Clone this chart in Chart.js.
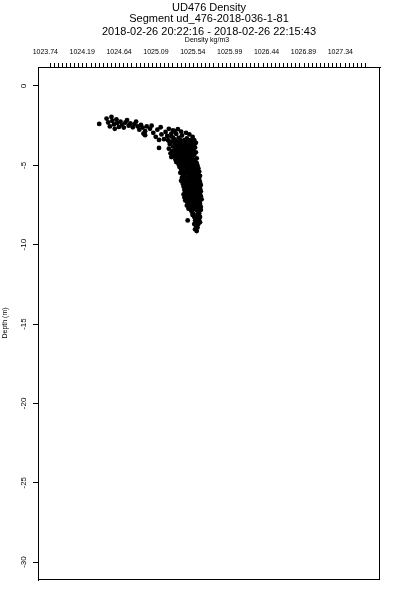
<!DOCTYPE html>
<html><head><meta charset="utf-8">
<script src="https://cdn.jsdelivr.net/npm/chart.js@4/dist/chart.umd.min.js"></script>
<style>html,body{margin:0;padding:0;background:#fff}canvas{display:block}</style>
</head><body>
<canvas id="c" width="400" height="600"></canvas>
<script>
const titleLines = ['UD476 Density', 'Segment ud_476-2018-036-1-81', '2018-02-26 20:22:16 - 2018-02-26 22:15:43'];
const xAxisTitle = 'Density kg/m3';
const yAxisTitle = 'Depth (m)';
const xTickLabels = [1023.74, 1024.19, 1024.64, 1025.09, 1025.54, 1025.99, 1026.44, 1026.89, 1027.34];
const xMinorStep = 0.05;
const xMinorCount = 78;
const yTickLabels = [0, -5, -10, -15, -20, -25, -30];

const density = [
  1024.34,1024.43,1024.45,1024.47,1024.49,1024.50,1024.52,1024.53,1024.55,1024.56,
  1024.58,1024.60,1024.62,1024.64,1024.66,1024.68,1024.70,1024.72,1024.75,1024.77,
  1024.79,1024.81,1024.83,1024.85,1024.87,1024.88,1024.90,1024.92,1024.90,1024.96,
  1024.98,1025.00,1025.03,1025.05,1025.07,1025.09,1025.10,1025.13,1025.15,1025.17,
  1025.19,1025.20,1025.22,1025.07,1025.24,1025.26,1025.27,
  1025.30,1025.24,1025.34,1025.40,1025.28,1025.44,1025.35,1025.22,1025.48,1025.31,1025.41,1025.26,
  1025.18,1025.33,1025.38,1025.45,1025.50,
  1025.23,1025.29,1025.36,1025.42,
  1025.31,1025.39,1025.47,1025.52,
  1025.20,1025.27,1025.34,1025.44,
  1025.30,1025.37,1025.41,1025.49,
  1025.24,1025.33,1025.39,1025.46,
  1025.28,1025.36,1025.43,1025.51,
  1025.19,1025.31,1025.38,1025.47,
  1025.26,1025.34,1025.41,1025.49,
  1025.23,1025.29,1025.37,1025.44,
  1025.32,1025.39,1025.46,1025.52,
  1025.21,1025.27,1025.35,1025.42,
  1025.30,1025.38,1025.45,1025.50,
  1025.25,1025.33,1025.40,1025.48,
  1025.22,1025.29,1025.36,1025.43,
  1025.31,1025.39,1025.47,1025.53,
  1025.27,1025.34,1025.42,1025.49,
  1025.30,1025.37,1025.44,1025.51,
  1025.28,1025.35,1025.41,1025.48,
  1025.33,1025.40,1025.46,1025.53,
  1025.31,1025.38,1025.45,1025.50,
  1025.34,1025.42,1025.48,1025.54,
  1025.32,1025.39,1025.45,1025.51,
  1025.36,1025.43,1025.50,1025.55,
  1025.34,1025.41,1025.47,1025.53,
  1025.37,1025.44,1025.50,1025.56,
  1025.33,1025.40,1025.46,1025.52,
  1025.36,1025.43,1025.49,1025.55,
  1025.38,1025.45,1025.51,1025.57,
  1025.35,1025.42,1025.48,1025.54,
  1025.37,1025.44,1025.50,1025.56,
  1025.34,1025.41,1025.47,1025.53,
  1025.38,1025.45,1025.52,1025.57,
  1025.36,1025.43,1025.49,1025.55,
  1025.39,1025.46,1025.53,1025.58,
  1025.37,1025.44,1025.50,1025.56,
  1025.40,1025.47,1025.52,1025.57,
  1025.38,1025.45,1025.51,1025.56,
  1025.41,1025.48,1025.54,1025.58,
  1025.39,1025.46,1025.52,1025.57,
  1025.37,1025.43,1025.50,1025.55,
  1025.40,1025.47,1025.53,1025.58,
  1025.38,1025.45,1025.51,1025.56,
  1025.41,1025.48,1025.54,1025.59,
  1025.39,1025.46,1025.52,1025.57,
  1025.42,1025.49,1025.55,
  1025.44,1025.51,1025.57,
  1025.41,1025.48,1025.54,
  1025.45,1025.52,1025.58,
  1025.43,1025.50,1025.56,
  1025.46,1025.53,1025.58,
  1025.47,1025.55,
  1025.49,1025.56,
  1025.48,1025.54,
  1025.50,1025.57,
  1025.52,1025.56,
  1025.42,1025.51,1025.55,
  1025.53,1025.57,
  1025.50,1025.55,
  1025.52,
  1025.54,
  1025.51,
  1025.53
];
const depth = [
  -2.39,-2.05,-2.30,-2.55,-1.95,-2.20,-2.42,-2.70,-2.10,-2.33,
  -2.58,-2.25,-2.45,-2.62,-2.30,-2.15,-2.50,-2.35,-2.60,-2.40,
  -2.25,-2.55,-2.75,-2.45,-2.62,-3.00,-2.85,-2.55,-3.10,-2.70,
  -2.50,-2.95,-3.20,-2.75,-3.40,-2.60,-3.05,-3.35,-2.90,-3.15,
  -2.70,-3.50,-3.00,-3.90,-3.25,-2.85,-3.60,
  -2.72,-2.80,-2.88,-2.95,-3.02,-3.05,-3.12,-3.18,-3.20,-3.27,-3.30,-3.36,
  -3.42,-3.42,-3.42,-3.42,-3.42,
  -3.51,-3.51,-3.51,-3.51,
  -3.58,-3.58,-3.58,-3.58,
  -3.66,-3.66,-3.66,-3.66,
  -3.73,-3.73,-3.73,-3.73,
  -3.81,-3.81,-3.81,-3.81,
  -3.87,-3.87,-3.87,-3.87,
  -3.95,-3.95,-3.95,-3.95,
  -4.03,-4.03,-4.03,-4.03,
  -4.10,-4.10,-4.10,-4.10,
  -4.18,-4.18,-4.18,-4.18,
  -4.24,-4.24,-4.24,-4.24,
  -4.33,-4.33,-4.33,-4.33,
  -4.41,-4.41,-4.41,-4.41,
  -4.48,-4.48,-4.48,-4.48,
  -4.56,-4.56,-4.56,-4.56,
  -4.63,-4.63,-4.63,-4.63,
  -4.71,-4.71,-4.71,-4.71,
  -4.79,-4.79,-4.79,-4.79,
  -4.86,-4.86,-4.86,-4.86,
  -4.94,-4.94,-4.94,-4.94,
  -5.02,-5.02,-5.02,-5.02,
  -5.10,-5.10,-5.10,-5.10,
  -5.19,-5.19,-5.19,-5.19,
  -5.28,-5.28,-5.28,-5.28,
  -5.39,-5.39,-5.39,-5.39,
  -5.47,-5.47,-5.47,-5.47,
  -5.58,-5.58,-5.58,-5.58,
  -5.66,-5.66,-5.66,-5.66,
  -5.77,-5.77,-5.77,-5.77,
  -5.86,-5.86,-5.86,-5.86,
  -5.97,-5.97,-5.97,-5.97,
  -6.05,-6.05,-6.05,-6.05,
  -6.16,-6.16,-6.16,-6.16,
  -6.24,-6.24,-6.24,-6.24,
  -6.35,-6.35,-6.35,-6.35,
  -6.44,-6.44,-6.44,-6.44,
  -6.55,-6.55,-6.55,-6.55,
  -6.63,-6.63,-6.63,-6.63,
  -6.74,-6.74,-6.74,-6.74,
  -6.83,-6.83,-6.83,-6.83,
  -6.94,-6.94,-6.94,-6.94,
  -7.03,-7.03,-7.03,-7.03,
  -7.14,-7.14,-7.14,-7.14,
  -7.22,-7.22,-7.22,-7.22,
  -7.33,-7.33,-7.33,
  -7.42,-7.42,-7.42,
  -7.53,-7.53,-7.53,
  -7.62,-7.62,-7.62,
  -7.73,-7.73,-7.73,
  -7.82,-7.82,-7.82,
  -7.93,-7.93,
  -8.04,-8.04,
  -8.13,-8.13,
  -8.25,-8.25,
  -8.36,-8.36,
  -8.47,-8.47,-8.47,
  -8.58,-8.58,
  -8.70,-8.70,
  -8.81,
  -8.92,
  -9.03,
  -9.14
];

const FONT = '"Liberation Sans", Arial, Helvetica, sans-serif';
Chart.defaults.font.family = FONT;
Chart.defaults.color = '#000';

const points = density.map((d, i) => ({ x: d, y: depth[i] }));

const decorPlugin = {
  id: 'decor',
  afterDraw(chart) {
    const ctx = chart.ctx;
    const a = chart.chartArea;
    ctx.save();
    ctx.strokeStyle = '#000';
    ctx.lineWidth = 1;
    ctx.strokeRect(Math.round(a.left) + 0.5, Math.round(a.top) + 0.5,
      Math.round(a.right - a.left) - 1, Math.round(a.bottom - a.top) - 1);
    ctx.fillStyle = '#000';
    ctx.textAlign = 'center';
    ctx.textBaseline = 'middle';
    ctx.font = '11px ' + FONT;
    const ty = [8, 19, 32];
    titleLines.forEach((t, i) => ctx.fillText(t, 209, ty[i]));
    ctx.font = '7px ' + FONT;
    ctx.fillText(xAxisTitle, 207, 40);
    const ys = chart.scales.y;
    ctx.font = '8px ' + FONT;
    yTickLabels.forEach(v => {
      const py = ys.getPixelForValue(v);
      ctx.save();
      ctx.translate(24, py);
      ctx.rotate(-Math.PI / 2);
      ctx.fillText(String(v), 0, 0);
      ctx.restore();
    });
    ctx.save();
    ctx.font = '7px ' + FONT;
    ctx.translate(5, 323);
    ctx.rotate(-Math.PI / 2);
    ctx.fillText(yAxisTitle, 0, 0);
    ctx.restore();
    ctx.restore();
  }
};

new Chart(document.getElementById('c'), {
  type: 'scatter',
  data: {
    datasets: [{
      data: points,
      backgroundColor: '#000',
      borderColor: '#000',
      borderWidth: 0,
      pointRadius: 2.4,
      pointHoverRadius: 2.4
    }]
  },
  options: {
    responsive: false,
    animation: false,
    events: [],
    layout: { padding: { left: 0, right: 20, top: 0, bottom: 20 } },
    plugins: { legend: { display: false }, tooltip: { enabled: false }, title: { display: false } },
    scales: {
      x: {
        type: 'linear',
        position: 'top',
        min: 1023.593,
        max: 1027.767,
        afterBuildTicks: s => {
          const t = [];
          for (let k = 0; k < xMinorCount; k++) t.push({ value: +(xTickLabels[0] + k * xMinorStep).toFixed(2) });
          s.ticks = t;
        },
        afterFit: s => { s.height = 67; },
        ticks: {
          autoSkip: false, maxRotation: 0, minRotation: 0,
          labelOffset: -4.7, padding: 7,
          font: { size: 7 }, color: '#000',
          callback: v => {
            const m = xTickLabels.find(l => Math.abs(l - v) < 1e-6);
            return m === undefined ? '' : m.toFixed(2);
          }
        },
        grid: { drawOnChartArea: false, tickLength: 4, color: '#000', lineWidth: 1 },
        border: { display: true, color: '#000', width: 1 }
      },
      y: {
        type: 'linear',
        min: -31.13,
        max: 1.197,
        afterBuildTicks: s => { s.ticks = yTickLabels.map(v => ({ value: v })); },
        afterFit: s => { s.width = 38; },
        ticks: { display: false },
        grid: { drawOnChartArea: false, tickLength: 5, color: '#000', lineWidth: 1 },
        border: { display: true, color: '#000', width: 1 }
      }
    }
  },
  plugins: [decorPlugin]
});
</script>
</body></html>
